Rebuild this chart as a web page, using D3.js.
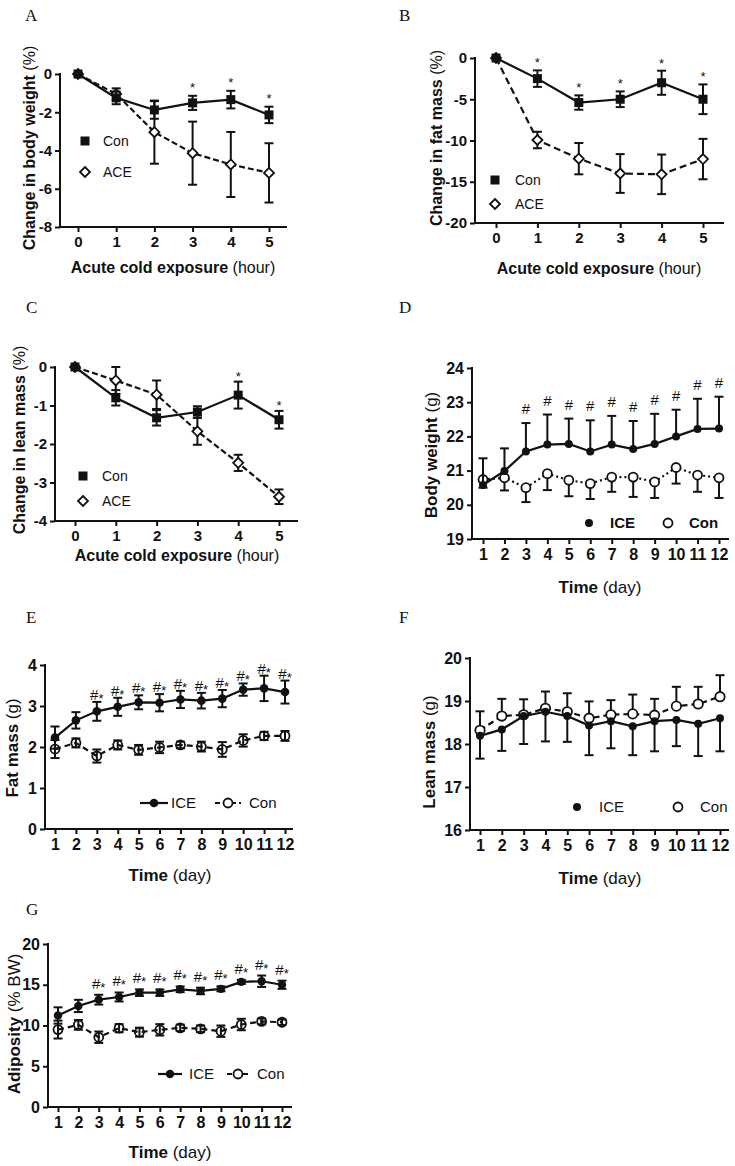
<!DOCTYPE html>
<html><head><meta charset="utf-8">
<script src="https://cdn.jsdelivr.net/npm/d3@7"></script>
<style>body{margin:0;background:#fff} svg{display:block}</style>
</head><body>
<svg id="chart" width="735" height="1166"></svg>
<script>
// ---------------- DATA ----------------
const hours = [0, 1, 2, 3, 4, 5];
const days = [1, 2, 3, 4, 5, 6, 7, 8, 9, 10, 11, 12];

// A: change in body weight (%)
const bwConMean = [0, -1.25, -1.88, -1.51, -1.34, -2.14];
const bwConErr  = [0, 0.33, 0.46, 0.37, 0.46, 0.43];
const bwAceMean = [0, -1.05, -3.04, -4.14, -4.73, -5.17];
const bwAceErr  = [0, 0.3, 1.65, 1.65, 1.7, 1.55];
const bwSig     = [0, 0, 0, 1, 1, 1];
const bwYTicks  = [0, -2, -4, -6, -8];

// B: change in fat mass (%)
const fmConMean = [0, -2.5, -5.4, -5.0, -3.0, -5.0];
const fmConErr  = [0, 1.0, 0.87, 0.95, 1.46, 1.8];
const fmAceMean = [0, -9.94, -12.2, -14.0, -14.1, -12.25];
const fmAceErr  = [0, 1.0, 1.9, 2.35, 2.4, 2.45];
const fmSig     = [0, 1, 1, 1, 1, 1];
const fmYTicks  = [0, -5, -10, -15, -20];

// C: change in lean mass (%)
const lmConMean = [0, -0.80, -1.32, -1.17, -0.73, -1.37];
const lmConErr  = [0, 0.2, 0.2, 0.15, 0.35, 0.23];
const lmAceMean = [0, -0.35, -0.72, -1.67, -2.49, -3.37];
const lmAceErr  = [0, 0.35, 0.37, 0.35, 0.21, 0.19];
const lmSig     = [0, 0, 0, 0, 1, 1];
const lmYTicks  = [0, -1, -2, -3, -4];

// D: body weight (g)
const bwIceG    = [20.58, 20.99, 21.56, 21.76, 21.78, 21.56, 21.76, 21.63, 21.78, 22.0, 22.22, 22.23];
const bwIceGErr = [0.78, 0.66, 0.83, 0.88, 0.74, 0.91, 0.84, 0.82, 0.88, 0.78, 0.88, 0.93];
const bwConG    = [20.74, 20.79, 20.50, 20.91, 20.72, 20.62, 20.81, 20.81, 20.67, 21.09, 20.87, 20.79];
const bwConGErr = [0.24, 0.37, 0.42, 0.48, 0.47, 0.45, 0.43, 0.58, 0.47, 0.47, 0.49, 0.59];
const bwGSig    = [0, 0, 1, 1, 1, 1, 1, 1, 1, 1, 1, 1];
const bwGYTicks = [19, 20, 21, 22, 23, 24];

// E: fat mass (g)
const fatIce    = [2.23, 2.65, 2.87, 2.98, 3.09, 3.08, 3.16, 3.13, 3.18, 3.40, 3.43, 3.34];
const fatIceErr = [0.27, 0.2, 0.23, 0.22, 0.17, 0.21, 0.21, 0.19, 0.21, 0.15, 0.31, 0.28];
const fatCon    = [1.95, 2.10, 1.78, 2.05, 1.93, 1.99, 2.05, 2.01, 1.94, 2.16, 2.27, 2.27];
const fatConErr = [0.22, 0.11, 0.16, 0.11, 0.12, 0.14, 0.08, 0.12, 0.18, 0.15, 0.1, 0.12];
const fatSig    = [0, 0, 1, 1, 1, 1, 1, 1, 1, 1, 1, 1];
const fatYTicks = [0, 1, 2, 3, 4];

// F: lean mass (g)
const leanIce    = [18.19, 18.34, 18.65, 18.75, 18.65, 18.43, 18.53, 18.41, 18.53, 18.56, 18.47, 18.60];
const leanIceErr = [0.53, 0.5, 0.65, 0.69, 0.6, 0.69, 0.63, 0.67, 0.7, 0.61, 0.75, 0.77];
const leanCon    = [18.32, 18.65, 18.68, 18.83, 18.75, 18.60, 18.68, 18.70, 18.67, 18.88, 18.93, 19.10];
const leanConErr = [0.44, 0.4, 0.36, 0.39, 0.43, 0.39, 0.34, 0.45, 0.38, 0.45, 0.4, 0.5];
const leanYTicks = [16, 17, 18, 19, 20];

// G: adiposity (% BW)
const adiIce    = [11.23, 12.4, 13.17, 13.5, 14.03, 14.03, 14.44, 14.24, 14.5, 15.35, 15.43, 15.0];
const adiIceErr = [1.0, 0.75, 0.6, 0.55, 0.4, 0.4, 0.35, 0.4, 0.3, 0.25, 0.7, 0.5];
const adiCon    = [9.5, 10.08, 8.56, 9.67, 9.18, 9.47, 9.71, 9.59, 9.3, 10.12, 10.5, 10.4];
const adiConErr = [1.1, 0.6, 0.7, 0.5, 0.55, 0.7, 0.4, 0.4, 0.7, 0.7, 0.35, 0.33];
const adiSig    = [0, 0, 1, 1, 1, 1, 1, 1, 1, 1, 1, 1];
const adiYTicks = [0, 5, 10, 15, 20];

// ---------------- DRAWING ----------------
const svg = d3.select('#chart');
const SANS = "'Liberation Sans', Arial, Helvetica, sans-serif";
const SERIF = "'Liberation Serif', 'Times New Roman', serif";
const INK = '#111';

function marker(g, type, cx, cy, r, fill) {
  if (type === 'square') {
    g.append('rect').attr('x', cx - r).attr('y', cy - r).attr('width', 2 * r).attr('height', 2 * r).attr('fill', INK);
  } else if (type === 'diamond') {
    g.append('path').attr('d', `M${cx},${cy - r}L${cx + r},${cy}L${cx},${cy + r}L${cx - r},${cy}Z`)
      .attr('fill', '#fff').attr('stroke', INK).attr('stroke-width', 1.8);
  } else if (type === 'dot') {
    g.append('circle').attr('cx', cx).attr('cy', cy).attr('r', r).attr('fill', INK);
  } else if (type === 'circle') {
    g.append('circle').attr('cx', cx).attr('cy', cy).attr('r', r)
      .attr('fill', fill || '#fff').attr('stroke', INK).attr('stroke-width', 1.8);
  }
}

function drawPanel(p) {
  const g = svg.append('g');
  const x = d3.scaleLinear().domain(d3.extent(p.xs)).range(p.xRange);
  const y = d3.scaleLinear().domain(p.yDomain).range(p.yRange);
  const baseY = p.yRange[0];

  const gx = g.append('g').attr('transform', `translate(0,${baseY})`)
    .call(d3.axisBottom(x).tickValues(p.xs).tickFormat(d => String(d)).tickSize(5).tickPadding(p.xPad));
  const gy = g.append('g').attr('transform', `translate(${p.axisX},0)`)
    .call(d3.axisLeft(y).tickValues(p.yTicks).tickFormat(d => String(d)).tickSize(5).tickPadding(3));
  [gx, gy].forEach(a => {
    a.select('.domain').remove();
    a.selectAll('line').attr('stroke', INK).attr('stroke-width', 2);
    a.selectAll('text').attr('font-family', SANS).attr('font-weight', 'bold')
      .attr('font-size', p.tickFont).attr('fill', INK);
  });
  g.append('line').attr('x1', p.axisX - 1).attr('x2', p.axisRight).attr('y1', baseY).attr('y2', baseY)
    .attr('stroke', INK).attr('stroke-width', 2);
  g.append('line').attr('x1', p.axisX).attr('x2', p.axisX).attr('y1', baseY).attr('y2', y(p.yDomain[1]) - 1)
    .attr('stroke', INK).attr('stroke-width', 2);

  // series
  p.series.forEach(s => {
    const pts = p.xs.map((xv, i) => ({ x: xv, m: s.mean[i], e: s.err[i] }));
    g.append('path').attr('d', d3.line().x(d => x(d.x)).y(d => y(d.m))(pts))
      .attr('fill', 'none').attr('stroke', INK).attr('stroke-width', s.lw || 2.2)
      .attr('stroke-dasharray', s.dash || null);
    pts.forEach(d => {
      if (!d.e) return;
      const hi = s.dir === 'down' ? d.m : d.m + d.e;
      const lo = s.dir === 'up' ? d.m : d.m - d.e;
      const cx = x(d.x);
      g.append('line').attr('x1', cx).attr('x2', cx).attr('y1', y(hi)).attr('y2', y(lo))
        .attr('stroke', INK).attr('stroke-width', 2);
      const caps = [];
      if (s.dir !== 'down') caps.push(hi);
      if (s.dir !== 'up') caps.push(lo);
      caps.forEach(v => g.append('line').attr('x1', cx - p.cap).attr('x2', cx + p.cap)
        .attr('y1', y(v)).attr('y2', y(v)).attr('stroke', INK).attr('stroke-width', 2));
    });
    pts.forEach(d => marker(g, s.marker, x(d.x), y(d.m), s.r, s.fill));
  });

  // significance marks
  if (p.sig) {
    const ref = p.series[p.sig.ref];
    p.sig.flags.forEach((f, i) => {
      if (!f) return;
      const top = ref.mean[i] + (ref.dir === 'down' ? 0 : ref.err[i]);
      const t = g.append('text').attr('x', x(p.xs[i])).attr('y', y(top) - p.sig.offset)
        .attr('text-anchor', 'middle').attr('font-family', SANS).attr('fill', INK);
      p.sig.parts.forEach(part => {
        t.append('tspan').text(part.t).attr('font-size', part.size).attr('dy', part.dy || 0);
      });
    });
  }

  // legend
  p.legend.forEach(l => {
    if (l.line) {
      g.append('line').attr('x1', l.line[0]).attr('x2', l.line[1]).attr('y1', l.y).attr('y2', l.y)
        .attr('stroke', INK).attr('stroke-width', 2.2).attr('stroke-dasharray', l.dash || null);
    }
    marker(g, l.marker, l.x, l.y, l.r, l.fill);
    g.append('text').attr('x', l.tx).attr('y', l.y + 5).text(l.label)
      .attr('font-family', SANS).attr('font-size', p.legendFont)
      .attr('font-weight', p.legendBold ? 'bold' : 'normal').attr('fill', INK);
  });

  // axis titles
  const xt = g.append('text').attr('x', p.xTitle.x).attr('y', p.xTitle.y).attr('text-anchor', 'middle')
    .attr('font-family', SANS).attr('font-size', p.titleFont).attr('fill', INK);
  xt.append('tspan').text(p.xTitle.bold).attr('font-weight', 'bold');
  xt.append('tspan').text(' ' + p.xTitle.rest);
  const yt = g.append('text').attr('transform', `translate(${p.yTitle.x},${p.yTitle.y}) rotate(-90)`)
    .attr('text-anchor', 'middle').attr('font-family', SANS).attr('font-size', p.titleFont).attr('fill', INK);
  yt.append('tspan').text(p.yTitle.bold).attr('font-weight', 'bold');
  yt.append('tspan').text(' ' + p.yTitle.rest);

  // panel letter
  g.append('text').attr('x', p.letter.x).attr('y', p.letter.y).text(p.letter.t)
    .attr('font-family', SERIF).attr('font-size', 17).attr('fill', INK);
}

const star = [{ t: '*', size: 13 }];
const hash = [{ t: '#', size: 15 }];
const hashStar = [{ t: '#', size: 15 }, { t: '*', size: 13, dy: 3 }];

// Panel A
drawPanel({
  xs: hours, xRange: [78, 269], yDomain: [-8, 0], yRange: [227, 74], yTicks: bwYTicks,
  axisX: 60, axisRight: 287, xPad: 4, tickFont: 15, cap: 4.5, titleFont: 16, legendFont: 14,
  series: [
    { mean: bwAceMean, err: bwAceErr, dir: 'both', marker: 'diamond', r: 5, dash: '6,3' },
    { mean: bwConMean, err: bwConErr, dir: 'both', marker: 'square', r: 4.5 }
  ],
  sig: { ref: 1, flags: bwSig, offset: 4, parts: star },
  legend: [
    { marker: 'square', x: 85, y: 141, r: 4.5, tx: 103, label: 'Con' },
    { marker: 'diamond', x: 85, y: 172, r: 5, tx: 103, label: 'ACE' }
  ],
  xTitle: { x: 173, y: 273, bold: 'Acute cold exposure', rest: '(hour)' },
  yTitle: { x: 35, y: 148, bold: 'Change in body weight', rest: '(%)' },
  letter: { x: 25, y: 21, t: 'A' }
});

// Panel B
drawPanel({
  xs: hours, xRange: [496, 703], yDomain: [-20, 0], yRange: [223, 58], yTicks: fmYTicks,
  axisX: 475, axisRight: 724, xPad: 4, tickFont: 15, cap: 4.5, titleFont: 16, legendFont: 14,
  series: [
    { mean: fmAceMean, err: fmAceErr, dir: 'both', marker: 'diamond', r: 5, dash: '7,4' },
    { mean: fmConMean, err: fmConErr, dir: 'both', marker: 'square', r: 4.5 }
  ],
  sig: { ref: 1, flags: fmSig, offset: 3, parts: star },
  legend: [
    { marker: 'square', x: 495, y: 180, r: 4.5, tx: 515, label: 'Con' },
    { marker: 'diamond', x: 495, y: 204, r: 5, tx: 515, label: 'ACE' }
  ],
  xTitle: { x: 599, y: 274, bold: 'Acute cold exposure', rest: '(hour)' },
  yTitle: { x: 442, y: 138, bold: 'Change in fat mass', rest: '(%)' },
  letter: { x: 399, y: 21, t: 'B' }
});

// Panel C
drawPanel({
  xs: hours, xRange: [75, 279], yDomain: [-4, 0], yRange: [521, 367], yTicks: lmYTicks,
  axisX: 55, axisRight: 298, xPad: 4, tickFont: 15, cap: 4.5, titleFont: 16, legendFont: 14,
  series: [
    { mean: lmAceMean, err: lmAceErr, dir: 'both', marker: 'diamond', r: 5, dash: '6,3' },
    { mean: lmConMean, err: lmConErr, dir: 'both', marker: 'square', r: 4.5 }
  ],
  sig: { ref: 1, flags: lmSig, offset: 1, parts: star },
  legend: [
    { marker: 'square', x: 83, y: 476, r: 4.5, tx: 102, label: 'Con' },
    { marker: 'diamond', x: 83, y: 501, r: 5, tx: 102, label: 'ACE' }
  ],
  xTitle: { x: 177, y: 561, bold: 'Acute cold exposure', rest: '(hour)' },
  yTitle: { x: 25, y: 440, bold: 'Change in lean mass', rest: '(%)' },
  letter: { x: 26, y: 313, t: 'C' }
});

// Panel D
drawPanel({
  xs: days, xRange: [483, 719], yDomain: [19, 24], yRange: [539, 368], yTicks: bwGYTicks,
  axisX: 472, axisRight: 729, xPad: 5, tickFont: 16, cap: 4.5, titleFont: 17, legendFont: 15, legendBold: true,
  series: [
    { mean: bwConG, err: bwConGErr, dir: 'down', marker: 'circle', r: 4.5, dash: '2,3' },
    { mean: bwIceG, err: bwIceGErr, dir: 'up', marker: 'dot', r: 4 }
  ],
  sig: { ref: 1, flags: bwGSig, offset: 9, parts: hash },
  legend: [
    { marker: 'dot', x: 589, y: 523, r: 4, tx: 610, label: 'ICE' },
    { marker: 'circle', x: 668, y: 523, r: 4.5, tx: 689, label: 'Con' }
  ],
  xTitle: { x: 600, y: 593, bold: 'Time', rest: '(day)' },
  yTitle: { x: 437, y: 455, bold: 'Body weight', rest: '(g)' },
  letter: { x: 399, y: 313, t: 'D' }
});

// Panel E
drawPanel({
  xs: days, xRange: [55, 285], yDomain: [0, 4], yRange: [829, 665], yTicks: fatYTicks,
  axisX: 45, axisRight: 293, xPad: 5, tickFont: 16, cap: 4.5, titleFont: 17, legendFont: 15,
  series: [
    { mean: fatCon, err: fatConErr, dir: 'both', marker: 'circle', r: 4.5, dash: '6,4', fill: 'none' },
    { mean: fatIce, err: fatIceErr, dir: 'both', marker: 'dot', r: 4.3 }
  ],
  sig: { ref: 1, flags: fatSig, offset: 2, parts: hashStar },
  legend: [
    { line: [140, 168], marker: 'dot', x: 154, y: 803, r: 4.3, tx: 171, label: 'ICE' },
    { line: [215, 241], dash: '5,3', marker: 'circle', x: 228, y: 803, r: 4.5, fill: '#fff', tx: 249, label: 'Con' }
  ],
  xTitle: { x: 170, y: 881, bold: 'Time', rest: '(day)' },
  yTitle: { x: 18, y: 748, bold: 'Fat mass', rest: '(g)' },
  letter: { x: 26, y: 623, t: 'E' }
});

// Panel F
drawPanel({
  xs: days, xRange: [480, 720], yDomain: [16, 20], yRange: [830, 658], yTicks: leanYTicks,
  axisX: 470, axisRight: 729, xPad: 5, tickFont: 16, cap: 4.5, titleFont: 17, legendFont: 15,
  series: [
    { mean: leanCon, err: leanConErr, dir: 'up', marker: 'circle', r: 4.7, dash: '6,4' },
    { mean: leanIce, err: leanIceErr, dir: 'down', marker: 'dot', r: 4 }
  ],
  legend: [
    { marker: 'dot', x: 577, y: 807, r: 4, tx: 599, label: 'ICE' },
    { marker: 'circle', x: 678, y: 807, r: 4.5, tx: 700, label: 'Con' }
  ],
  xTitle: { x: 600, y: 884, bold: 'Time', rest: '(day)' },
  yTitle: { x: 435, y: 752, bold: 'Lean mass', rest: '(g)' },
  letter: { x: 399, y: 623, t: 'F' }
});

// Panel G
drawPanel({
  xs: days, xRange: [58, 282], yDomain: [0, 20], yRange: [1107, 944], yTicks: adiYTicks,
  axisX: 48, axisRight: 292, xPad: 5, tickFont: 16, cap: 4.5, titleFont: 17, legendFont: 15,
  series: [
    { mean: adiCon, err: adiConErr, dir: 'both', marker: 'circle', r: 4.5, dash: '6,4', fill: 'none' },
    { mean: adiIce, err: adiIceErr, dir: 'both', marker: 'dot', r: 4.2 }
  ],
  sig: { ref: 1, flags: adiSig, offset: 6, parts: hashStar },
  legend: [
    { line: [158, 182], marker: 'dot', x: 170, y: 1074, r: 4.2, tx: 189, label: 'ICE' },
    { line: [227, 249], dash: '5,3', marker: 'circle', x: 238, y: 1074, r: 4.5, fill: '#fff', tx: 257, label: 'Con' }
  ],
  xTitle: { x: 170, y: 1158, bold: 'Time', rest: '(day)' },
  yTitle: { x: 20, y: 1024, bold: 'Adiposity', rest: '(% BW)' },
  letter: { x: 26, y: 915, t: 'G' }
});
</script>
</body></html>
